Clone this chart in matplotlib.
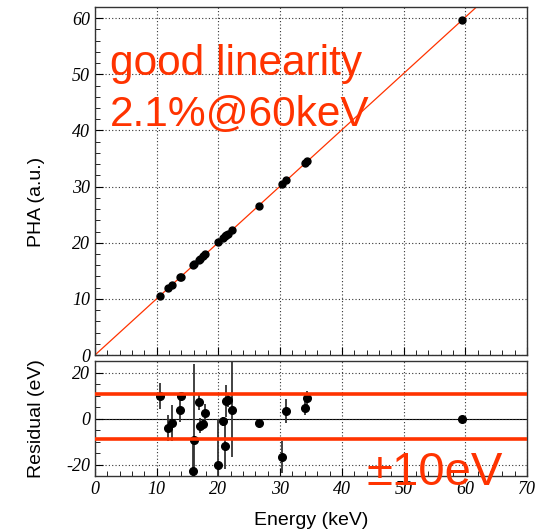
import matplotlib
matplotlib.use("Agg")
import matplotlib.pyplot as plt
from matplotlib.ticker import MultipleLocator

plt.rcParams["axes.unicode_minus"] = False

# energies of the calibration lines (keV)
energy = [10.5, 11.9, 12.5, 13.8, 13.9, 15.9, 16.1, 16.9, 17.0, 17.5, 17.9,
          20.0, 20.8, 21.1, 21.3, 21.5, 22.2, 26.5, 30.3, 31.0, 34.1, 34.4, 59.5]
# measured pulse height (a.u.)
pha = [10.55, 11.95, 12.55, 13.85, 13.95, 15.95, 16.15, 16.95, 17.05, 17.55, 17.95,
       20.05, 20.85, 21.15, 21.35, 21.55, 22.25, 26.6, 30.4, 31.1, 34.2, 34.5, 59.7]
# fit residuals (eV) and their errors
residual = [9.8, -4.1, -1.9, 3.9, 9.8, -22.8, -9.2, 7.3, -3.1, -2.3, 2.5,
            -20.2, -1.2, -11.8, 7.6, 8.1, 3.9, -1.9, -16.8, 3.2, 4.7, 8.8, 0.0]
residual_err = [5.8, 5.5, 7.7, 5.5, 1.5, 12.0, 33.0, 3.7, 3.2, 2.0, 4.0,
                20.0, 2.0, 10.0, 7.0, 3.0, 20.5, 1.5, 7.0, 5.3, 3.0, 3.0, 1.0]

fit_slope = 1.003
fit_offset = 0.0
band_hi = 10.7
band_lo = -8.8

RED = "#ff3300"
tick_font = {"family": "Liberation Serif", "style": "italic", "size": 13}
label_font = {"family": "Liberation Sans", "size": 14}

fig = plt.figure(figsize=(5.51, 5.31), dpi=100)
W, H = 551, 531
ax = fig.add_axes([95 / W, 1 - 355 / H, 432 / W, 348 / H])
ax2 = fig.add_axes([95 / W, 1 - 476 / H, 432 / W, 115 / H])

# top panel: PHA vs energy
ax.axline((0, fit_offset), slope=fit_slope, color=RED, lw=0.9, zorder=2)
ax.plot(energy, pha, "o", color="black", ms=5, zorder=3)
ax.set_xlim(0, 70)
ax.set_ylim(0, 62)
ax.xaxis.set_major_locator(MultipleLocator(10))
ax.xaxis.set_minor_locator(MultipleLocator(2))
ax.yaxis.set_major_locator(MultipleLocator(10))
ax.yaxis.set_minor_locator(MultipleLocator(2))
ax.tick_params(labelbottom=False)
ax.set_ylabel("PHA (a.u.)", fontdict=label_font)
ax.yaxis.set_label_coords(-0.115, 0.44)

ax.text(0.035, 0.805, "good linearity", transform=ax.transAxes, color=RED,
        fontsize=30.5, family="Liberation Sans", va="baseline")
ax.text(0.035, 0.659, "2.1%@60keV", transform=ax.transAxes, color=RED,
        fontsize=30.5, family="Liberation Sans", va="baseline")

# bottom panel: residuals
ax2.errorbar(energy, residual, yerr=residual_err, fmt="o", color="black",
             ecolor="0.2", elinewidth=1.3, ms=5.5, capsize=0, zorder=3)
ax2.axhline(0, color="black", lw=0.8, zorder=1)
ax2.axhline(band_hi, color=RED, lw=2.6, zorder=4)
ax2.axhline(band_lo, color=RED, lw=2.6, zorder=4)
ax2.set_xlim(0, 70)
ax2.set_ylim(-25, 25)
ax2.xaxis.set_major_locator(MultipleLocator(10))
ax2.xaxis.set_minor_locator(MultipleLocator(2))
ax2.yaxis.set_major_locator(MultipleLocator(20))
ax2.yaxis.set_minor_locator(MultipleLocator(5))
ax2.set_ylabel("Residual (eV)", fontdict=label_font)
ax2.yaxis.set_label_coords(-0.115, 0.5)
ax2.set_xlabel("Energy (keV)", fontdict=label_font, labelpad=10)

for a in (ax, ax2):
    a.grid(True, which="major", color="0.2", lw=0.8, linestyle=(0, (1, 2)))
    a.tick_params(which="both", direction="in", top=False, right=False)
    a.tick_params(which="major", length=6)
    a.tick_params(which="minor", length=3.5)
    for lab in a.get_xticklabels() + a.get_yticklabels():
        lab.set_fontfamily(tick_font["family"])
        lab.set_fontstyle(tick_font["style"])
        lab.set_fontsize(tick_font["size"])
    for s in a.spines.values():
        s.set_linewidth(1.0)
        s.set_color("0.2")

fig.text(367 / W, 1 - 485 / H, "\u00b110eV", color=RED, fontsize=34,
         family="Liberation Sans", va="baseline", zorder=10)

fig.savefig("out.png", dpi=100)
